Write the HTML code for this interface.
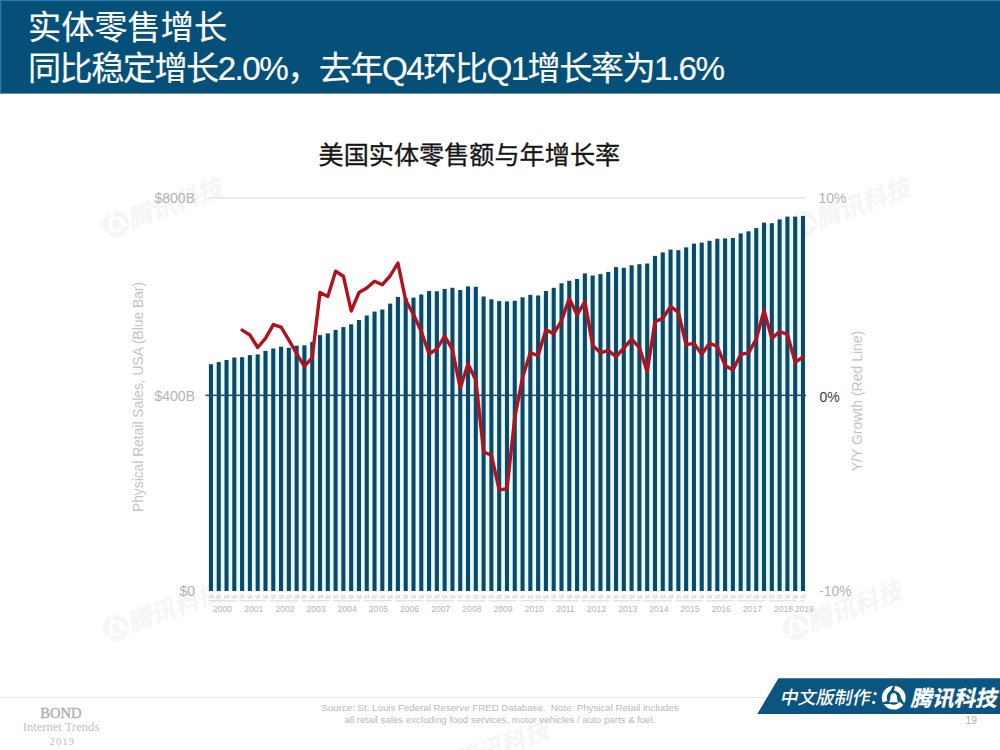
<!DOCTYPE html>
<html><head><meta charset="utf-8"><title>slide</title>
<style>
html,body{margin:0;padding:0;background:#fff;}
body{width:1000px;height:750px;overflow:hidden;font-family:"Liberation Sans",sans-serif;}
svg{display:block;}
svg text{font-family:"Liberation Sans",sans-serif;}
svg text.cjk{font-family:"Liberation Sans","Noto Sans CJK SC",sans-serif;}
.ser{font-family:"Liberation Serif",serif !important;}
</style></head><body>
<svg width="1000" height="750" viewBox="0 0 1000 750">
<rect width="1000" height="750" fill="#fff"/>
<rect x="0" y="0" width="1000" height="93.6" fill="#045079"/>
<rect x="0" y="0" width="1000" height="1" fill="#2d7aa5"/><rect x="0" y="0" width="1.2" height="93.6" fill="#2d7aa5"/>
<text class="cjk" x="28" y="39.3" font-size="33.2" fill="#fff" stroke="#fff" stroke-width="0.17">实体零售增长</text>
<text class="cjk" x="28" y="80.4" font-size="33.2" fill="#fff" stroke="#fff" stroke-width="0.17" textLength="697" lengthAdjust="spacing">同比稳定增长2.0%，去年Q4环比Q1增长率为1.6%</text>
<text class="cjk" x="318.5" y="163.7" font-size="25.15" fill="#161616" stroke="#161616" stroke-width="0.33">美国实体零售额与年增长率</text>
<g transform="translate(116 224) rotate(-20)" fill="#f3f3f3" opacity="0.8"><g transform="translate(0 0) rotate(0) scale(1.1017)" fill="#f3f3f3"><path transform="rotate(0)" d="M-0.41 -11.79A11.8 11.8 0 0 0 -10.78 4.80L-6.29 3.07A7.4 7.4 0 0 1 -3.82 -6.11Q-2.37 -8.27 -0.41 -11.79Z"/><path transform="rotate(120)" d="M-0.41 -11.79A11.8 11.8 0 0 0 -10.78 4.80L-6.29 3.07A7.4 7.4 0 0 1 -3.82 -6.11Q-2.37 -8.27 -0.41 -11.79Z"/><path transform="rotate(240)" d="M-0.41 -11.79A11.8 11.8 0 0 0 -10.78 4.80L-6.29 3.07A7.4 7.4 0 0 1 -3.82 -6.11Q-2.37 -8.27 -0.41 -11.79Z"/><path d="M-4.6 4.5C-3.6 3.2-3.5 1.6-3.3-0.6C-3.1-3.4-1.7-4.7 0-4.7C1.7-4.7 3.1-3.4 3.3-0.6C3.5 1.6 3.6 3.2 4.6 4.5Z"/></g>
<text class="cjk" transform="translate(13 9.3) skewX(-12)" font-size="24.6" font-weight="bold" fill="#f3f3f3">腾讯科技</text></g>
<g transform="translate(804 224) rotate(-20)" fill="#f3f3f3" opacity="0.8"><g transform="translate(0 0) rotate(0) scale(1.1017)" fill="#f3f3f3"><path transform="rotate(0)" d="M-0.41 -11.79A11.8 11.8 0 0 0 -10.78 4.80L-6.29 3.07A7.4 7.4 0 0 1 -3.82 -6.11Q-2.37 -8.27 -0.41 -11.79Z"/><path transform="rotate(120)" d="M-0.41 -11.79A11.8 11.8 0 0 0 -10.78 4.80L-6.29 3.07A7.4 7.4 0 0 1 -3.82 -6.11Q-2.37 -8.27 -0.41 -11.79Z"/><path transform="rotate(240)" d="M-0.41 -11.79A11.8 11.8 0 0 0 -10.78 4.80L-6.29 3.07A7.4 7.4 0 0 1 -3.82 -6.11Q-2.37 -8.27 -0.41 -11.79Z"/><path d="M-4.6 4.5C-3.6 3.2-3.5 1.6-3.3-0.6C-3.1-3.4-1.7-4.7 0-4.7C1.7-4.7 3.1-3.4 3.3-0.6C3.5 1.6 3.6 3.2 4.6 4.5Z"/></g>
<text class="cjk" transform="translate(13 9.3) skewX(-12)" font-size="24.6" font-weight="bold" fill="#f3f3f3">腾讯科技</text></g>
<g transform="translate(116 628) rotate(-20)" fill="#f3f3f3" opacity="0.8"><g transform="translate(0 0) rotate(0) scale(1.1017)" fill="#f3f3f3"><path transform="rotate(0)" d="M-0.41 -11.79A11.8 11.8 0 0 0 -10.78 4.80L-6.29 3.07A7.4 7.4 0 0 1 -3.82 -6.11Q-2.37 -8.27 -0.41 -11.79Z"/><path transform="rotate(120)" d="M-0.41 -11.79A11.8 11.8 0 0 0 -10.78 4.80L-6.29 3.07A7.4 7.4 0 0 1 -3.82 -6.11Q-2.37 -8.27 -0.41 -11.79Z"/><path transform="rotate(240)" d="M-0.41 -11.79A11.8 11.8 0 0 0 -10.78 4.80L-6.29 3.07A7.4 7.4 0 0 1 -3.82 -6.11Q-2.37 -8.27 -0.41 -11.79Z"/><path d="M-4.6 4.5C-3.6 3.2-3.5 1.6-3.3-0.6C-3.1-3.4-1.7-4.7 0-4.7C1.7-4.7 3.1-3.4 3.3-0.6C3.5 1.6 3.6 3.2 4.6 4.5Z"/></g>
<text class="cjk" transform="translate(13 9.3) skewX(-12)" font-size="24.6" font-weight="bold" fill="#f3f3f3">腾讯科技</text></g>
<g transform="translate(796 627) rotate(-20)" fill="#f3f3f3" opacity="0.8"><g transform="translate(0 0) rotate(0) scale(1.1017)" fill="#f3f3f3"><path transform="rotate(0)" d="M-0.41 -11.79A11.8 11.8 0 0 0 -10.78 4.80L-6.29 3.07A7.4 7.4 0 0 1 -3.82 -6.11Q-2.37 -8.27 -0.41 -11.79Z"/><path transform="rotate(120)" d="M-0.41 -11.79A11.8 11.8 0 0 0 -10.78 4.80L-6.29 3.07A7.4 7.4 0 0 1 -3.82 -6.11Q-2.37 -8.27 -0.41 -11.79Z"/><path transform="rotate(240)" d="M-0.41 -11.79A11.8 11.8 0 0 0 -10.78 4.80L-6.29 3.07A7.4 7.4 0 0 1 -3.82 -6.11Q-2.37 -8.27 -0.41 -11.79Z"/><path d="M-4.6 4.5C-3.6 3.2-3.5 1.6-3.3-0.6C-3.1-3.4-1.7-4.7 0-4.7C1.7-4.7 3.1-3.4 3.3-0.6C3.5 1.6 3.6 3.2 4.6 4.5Z"/></g>
<text class="cjk" transform="translate(13 9.3) skewX(-12)" font-size="24.6" font-weight="bold" fill="#f3f3f3">腾讯科技</text></g>
<g transform="translate(443 766) rotate(-20)" fill="#f3f3f3" opacity="0.8"><g transform="translate(0 0) rotate(0) scale(1.1017)" fill="#f3f3f3"><path transform="rotate(0)" d="M-0.41 -11.79A11.8 11.8 0 0 0 -10.78 4.80L-6.29 3.07A7.4 7.4 0 0 1 -3.82 -6.11Q-2.37 -8.27 -0.41 -11.79Z"/><path transform="rotate(120)" d="M-0.41 -11.79A11.8 11.8 0 0 0 -10.78 4.80L-6.29 3.07A7.4 7.4 0 0 1 -3.82 -6.11Q-2.37 -8.27 -0.41 -11.79Z"/><path transform="rotate(240)" d="M-0.41 -11.79A11.8 11.8 0 0 0 -10.78 4.80L-6.29 3.07A7.4 7.4 0 0 1 -3.82 -6.11Q-2.37 -8.27 -0.41 -11.79Z"/><path d="M-4.6 4.5C-3.6 3.2-3.5 1.6-3.3-0.6C-3.1-3.4-1.7-4.7 0-4.7C1.7-4.7 3.1-3.4 3.3-0.6C3.5 1.6 3.6 3.2 4.6 4.5Z"/></g>
<text class="cjk" transform="translate(13 9.3) skewX(-12)" font-size="24.6" font-weight="bold" fill="#f3f3f3">腾讯科技</text></g>
<rect x="208" y="197.5" width="598" height="1" fill="#dcdcdc"/>
<g fill="#e4fbff"><rect x="213.00" y="365.2" width="3.69" height="225.8"/><rect x="220.79" y="363.1" width="3.69" height="227.9"/><rect x="228.58" y="361.0" width="3.69" height="230.0"/><rect x="236.37" y="358.5" width="3.69" height="232.5"/><rect x="244.16" y="358.2" width="3.69" height="232.8"/><rect x="251.95" y="356.1" width="3.69" height="234.9"/><rect x="259.74" y="355.4" width="3.69" height="235.6"/><rect x="267.53" y="351.9" width="3.69" height="239.1"/><rect x="275.32" y="349.5" width="3.69" height="241.5"/><rect x="283.11" y="348.8" width="3.69" height="242.2"/><rect x="290.90" y="348.8" width="3.69" height="242.2"/><rect x="298.69" y="346.7" width="3.69" height="244.3"/><rect x="306.48" y="346.3" width="3.69" height="244.7"/><rect x="314.27" y="343.1" width="3.69" height="247.9"/><rect x="322.06" y="336.1" width="3.69" height="254.9"/><rect x="329.85" y="334.4" width="3.69" height="256.6"/><rect x="337.64" y="330.9" width="3.69" height="260.1"/><rect x="345.43" y="328.1" width="3.69" height="262.9"/><rect x="353.22" y="325.3" width="3.69" height="265.7"/><rect x="361.01" y="321.0" width="3.69" height="270.0"/><rect x="368.80" y="316.5" width="3.69" height="274.5"/><rect x="376.59" y="312.6" width="3.69" height="278.4"/><rect x="384.38" y="310.5" width="3.69" height="280.5"/><rect x="392.17" y="304.6" width="3.69" height="286.4"/><rect x="399.96" y="299.0" width="3.69" height="292.0"/><rect x="407.75" y="299.0" width="3.69" height="292.0"/><rect x="415.54" y="298.6" width="3.69" height="292.4"/><rect x="423.33" y="295.5" width="3.69" height="295.5"/><rect x="431.12" y="292.3" width="3.69" height="298.7"/><rect x="438.91" y="292.3" width="3.69" height="298.7"/><rect x="446.70" y="289.9" width="3.69" height="301.1"/><rect x="454.49" y="291.0" width="3.69" height="300.0"/><rect x="462.28" y="291.0" width="3.69" height="300.0"/><rect x="470.07" y="287.7" width="3.69" height="303.3"/><rect x="477.86" y="297.5" width="3.69" height="293.5"/><rect x="485.65" y="300.3" width="3.69" height="290.7"/><rect x="493.44" y="302.1" width="3.69" height="288.9"/><rect x="501.23" y="302.4" width="3.69" height="288.6"/><rect x="509.02" y="302.4" width="3.69" height="288.6"/><rect x="516.81" y="301.7" width="3.69" height="289.3"/><rect x="524.60" y="298.3" width="3.69" height="292.7"/><rect x="532.39" y="296.5" width="3.69" height="294.5"/><rect x="540.18" y="296.5" width="3.69" height="294.5"/><rect x="547.97" y="292.0" width="3.69" height="299.0"/><rect x="555.76" y="288.8" width="3.69" height="302.2"/><rect x="563.55" y="284.3" width="3.69" height="306.7"/><rect x="571.34" y="281.8" width="3.69" height="309.2"/><rect x="579.13" y="280.0" width="3.69" height="311.0"/><rect x="586.92" y="276.5" width="3.69" height="314.5"/><rect x="594.71" y="276.5" width="3.69" height="314.5"/><rect x="602.50" y="275.1" width="3.69" height="315.9"/><rect x="610.29" y="272.9" width="3.69" height="318.1"/><rect x="618.08" y="268.8" width="3.69" height="322.2"/><rect x="625.87" y="268.8" width="3.69" height="322.2"/><rect x="633.66" y="266.3" width="3.69" height="324.7"/><rect x="641.45" y="265.2" width="3.69" height="325.8"/><rect x="649.24" y="264.5" width="3.69" height="326.5"/><rect x="657.03" y="256.9" width="3.69" height="334.1"/><rect x="664.82" y="253.4" width="3.69" height="337.6"/><rect x="672.61" y="251.2" width="3.69" height="339.8"/><rect x="680.40" y="251.2" width="3.69" height="339.8"/><rect x="688.19" y="248.4" width="3.69" height="342.6"/><rect x="695.98" y="244.6" width="3.69" height="346.4"/><rect x="703.77" y="243.6" width="3.69" height="347.4"/><rect x="711.56" y="241.8" width="3.69" height="349.2"/><rect x="719.35" y="239.7" width="3.69" height="351.3"/><rect x="727.14" y="239.4" width="3.69" height="351.6"/><rect x="734.93" y="239.0" width="3.69" height="352.0"/><rect x="742.72" y="234.4" width="3.69" height="356.6"/><rect x="750.51" y="232.3" width="3.69" height="358.7"/><rect x="758.30" y="229.1" width="3.69" height="361.9"/><rect x="766.09" y="224.2" width="3.69" height="366.8"/><rect x="773.88" y="224.2" width="3.69" height="366.8"/><rect x="781.67" y="220.4" width="3.69" height="370.6"/><rect x="789.46" y="217.6" width="3.69" height="373.4"/><rect x="797.25" y="217.6" width="3.69" height="373.4"/></g>
<g fill="#0d4869"><rect x="208.90" y="364.2" width="4.1" height="226.8"/><rect x="216.69" y="362.1" width="4.1" height="228.9"/><rect x="224.48" y="360.0" width="4.1" height="231.0"/><rect x="232.27" y="357.5" width="4.1" height="233.5"/><rect x="240.06" y="357.2" width="4.1" height="233.8"/><rect x="247.85" y="355.1" width="4.1" height="235.9"/><rect x="255.64" y="354.4" width="4.1" height="236.6"/><rect x="263.43" y="350.9" width="4.1" height="240.1"/><rect x="271.22" y="348.5" width="4.1" height="242.5"/><rect x="279.01" y="346.7" width="4.1" height="244.3"/><rect x="286.80" y="347.8" width="4.1" height="243.2"/><rect x="294.59" y="345.7" width="4.1" height="245.3"/><rect x="302.38" y="345.3" width="4.1" height="245.7"/><rect x="310.17" y="342.1" width="4.1" height="248.9"/><rect x="317.96" y="335.1" width="4.1" height="255.9"/><rect x="325.75" y="333.4" width="4.1" height="257.6"/><rect x="333.54" y="329.9" width="4.1" height="261.1"/><rect x="341.33" y="327.1" width="4.1" height="263.9"/><rect x="349.12" y="324.3" width="4.1" height="266.7"/><rect x="356.91" y="320.0" width="4.1" height="271.0"/><rect x="364.70" y="315.5" width="4.1" height="275.5"/><rect x="372.49" y="311.6" width="4.1" height="279.4"/><rect x="380.28" y="309.5" width="4.1" height="281.5"/><rect x="388.07" y="303.6" width="4.1" height="287.4"/><rect x="395.86" y="296.9" width="4.1" height="294.1"/><rect x="403.65" y="298.0" width="4.1" height="293.0"/><rect x="411.44" y="297.6" width="4.1" height="293.4"/><rect x="419.23" y="294.5" width="4.1" height="296.5"/><rect x="427.02" y="291.0" width="4.1" height="300.0"/><rect x="434.81" y="291.3" width="4.1" height="299.7"/><rect x="442.60" y="288.9" width="4.1" height="302.1"/><rect x="450.39" y="287.8" width="4.1" height="303.2"/><rect x="458.18" y="290.0" width="4.1" height="301.0"/><rect x="465.97" y="286.4" width="4.1" height="304.6"/><rect x="473.76" y="286.7" width="4.1" height="304.3"/><rect x="481.55" y="296.5" width="4.1" height="294.5"/><rect x="489.34" y="299.3" width="4.1" height="291.7"/><rect x="497.13" y="301.1" width="4.1" height="289.9"/><rect x="504.92" y="301.4" width="4.1" height="289.6"/><rect x="512.71" y="300.7" width="4.1" height="290.3"/><rect x="520.50" y="297.3" width="4.1" height="293.7"/><rect x="528.29" y="294.8" width="4.1" height="296.2"/><rect x="536.08" y="295.5" width="4.1" height="295.5"/><rect x="543.87" y="291.0" width="4.1" height="300.0"/><rect x="551.66" y="287.8" width="4.1" height="303.2"/><rect x="559.45" y="283.3" width="4.1" height="307.7"/><rect x="567.24" y="280.8" width="4.1" height="310.2"/><rect x="575.03" y="279.0" width="4.1" height="312.0"/><rect x="582.82" y="273.4" width="4.1" height="317.6"/><rect x="590.61" y="275.5" width="4.1" height="315.5"/><rect x="598.40" y="274.1" width="4.1" height="316.9"/><rect x="606.19" y="271.9" width="4.1" height="319.1"/><rect x="613.98" y="267.1" width="4.1" height="323.9"/><rect x="621.77" y="267.8" width="4.1" height="323.2"/><rect x="629.56" y="265.3" width="4.1" height="325.7"/><rect x="637.35" y="264.2" width="4.1" height="326.8"/><rect x="645.14" y="263.5" width="4.1" height="327.5"/><rect x="652.93" y="255.9" width="4.1" height="335.1"/><rect x="660.72" y="252.4" width="4.1" height="338.6"/><rect x="668.51" y="249.5" width="4.1" height="341.5"/><rect x="676.30" y="250.2" width="4.1" height="340.8"/><rect x="684.09" y="247.4" width="4.1" height="343.6"/><rect x="691.88" y="243.6" width="4.1" height="347.4"/><rect x="699.67" y="242.6" width="4.1" height="348.4"/><rect x="707.46" y="240.8" width="4.1" height="350.2"/><rect x="715.25" y="238.7" width="4.1" height="352.3"/><rect x="723.04" y="238.4" width="4.1" height="352.6"/><rect x="730.83" y="238.0" width="4.1" height="353.0"/><rect x="738.62" y="233.4" width="4.1" height="357.6"/><rect x="746.41" y="231.3" width="4.1" height="359.7"/><rect x="754.20" y="228.1" width="4.1" height="362.9"/><rect x="761.99" y="222.6" width="4.1" height="368.4"/><rect x="769.78" y="223.2" width="4.1" height="367.8"/><rect x="777.57" y="219.4" width="4.1" height="371.6"/><rect x="785.36" y="216.6" width="4.1" height="374.4"/><rect x="793.15" y="216.6" width="4.1" height="374.4"/><rect x="800.94" y="215.9" width="4.1" height="375.1"/></g>
<rect x="205.5" y="394.6" width="600.5" height="1.5" fill="#274a63"/>
<polyline points="242.1,330.1 249.9,335.0 257.7,347.5 265.5,338.4 273.3,324.6 281.1,327.2 288.9,340.2 296.6,353.5 304.4,366.5 312.2,357.5 320.0,292.5 327.8,296.5 335.6,271.2 343.4,276.2 351.2,311.0 359.0,292.5 366.8,288.1 374.5,281.2 382.3,284.7 390.1,276.0 397.9,263.0 405.7,300.3 413.5,314.5 421.3,331.5 429.1,354.0 436.9,349.0 444.6,336.0 452.4,349.3 460.2,388.0 468.0,364.0 475.8,380.0 483.6,452.0 491.4,455.2 499.2,489.9 507.0,488.8 514.8,417.3 522.6,377.3 530.3,352.8 538.1,355.5 545.9,329.9 553.7,333.6 561.5,320.8 569.3,298.4 577.1,314.9 584.9,301.6 592.7,345.6 600.5,352.8 608.2,350.4 616.0,356.8 623.8,348.0 631.6,339.2 639.4,347.6 647.2,372.0 655.0,321.6 662.8,318.4 670.6,306.4 678.4,312.4 686.1,344.8 693.9,343.2 701.7,354.4 709.5,343.2 717.3,346.4 725.1,365.6 732.9,369.9 740.7,354.4 748.5,352.8 756.2,339.2 764.0,310.4 771.8,338.4 779.6,331.5 787.4,334.4 795.2,362.4 803.0,356.8" fill="none" stroke="#b3121c" stroke-width="3.4" stroke-linejoin="round" stroke-linecap="round"/>
<g font-size="14" fill="#b3b3b3"><text x="154.5" y="203.2">$800B</text><text x="154.5" y="400.6">$400B</text><text x="179.5" y="596">$0</text><text x="818.5" y="203">10%</text><text x="819" y="596">-10%</text></g>
<text x="819.5" y="401.5" font-size="14" fill="#3a3a3a">0%</text>
<text transform="translate(143.2 397) rotate(-90)" text-anchor="middle" font-size="13.8" fill="#c4c4c4">Physical Retail Sales, USA (Blue Bar)</text>
<text transform="translate(861.9 401) rotate(-90)" text-anchor="middle" font-size="14" fill="#c4c4c4">Y/Y Growth (Red Line)</text>
<g font-size="3.8" fill="#9e9e9e" text-anchor="middle"><text x="211.0" y="598.2">Q1</text><text x="218.7" y="598.2">Q2</text><text x="226.5" y="598.2">Q3</text><text x="234.3" y="598.2">Q4</text><text x="242.1" y="598.2">Q1</text><text x="249.9" y="598.2">Q2</text><text x="257.7" y="598.2">Q3</text><text x="265.5" y="598.2">Q4</text><text x="273.3" y="598.2">Q1</text><text x="281.1" y="598.2">Q2</text><text x="288.9" y="598.2">Q3</text><text x="296.6" y="598.2">Q4</text><text x="304.4" y="598.2">Q1</text><text x="312.2" y="598.2">Q2</text><text x="320.0" y="598.2">Q3</text><text x="327.8" y="598.2">Q4</text><text x="335.6" y="598.2">Q1</text><text x="343.4" y="598.2">Q2</text><text x="351.2" y="598.2">Q3</text><text x="359.0" y="598.2">Q4</text><text x="366.8" y="598.2">Q1</text><text x="374.5" y="598.2">Q2</text><text x="382.3" y="598.2">Q3</text><text x="390.1" y="598.2">Q4</text><text x="397.9" y="598.2">Q1</text><text x="405.7" y="598.2">Q2</text><text x="413.5" y="598.2">Q3</text><text x="421.3" y="598.2">Q4</text><text x="429.1" y="598.2">Q1</text><text x="436.9" y="598.2">Q2</text><text x="444.6" y="598.2">Q3</text><text x="452.4" y="598.2">Q4</text><text x="460.2" y="598.2">Q1</text><text x="468.0" y="598.2">Q2</text><text x="475.8" y="598.2">Q3</text><text x="483.6" y="598.2">Q4</text><text x="491.4" y="598.2">Q1</text><text x="499.2" y="598.2">Q2</text><text x="507.0" y="598.2">Q3</text><text x="514.8" y="598.2">Q4</text><text x="522.6" y="598.2">Q1</text><text x="530.3" y="598.2">Q2</text><text x="538.1" y="598.2">Q3</text><text x="545.9" y="598.2">Q4</text><text x="553.7" y="598.2">Q1</text><text x="561.5" y="598.2">Q2</text><text x="569.3" y="598.2">Q3</text><text x="577.1" y="598.2">Q4</text><text x="584.9" y="598.2">Q1</text><text x="592.7" y="598.2">Q2</text><text x="600.5" y="598.2">Q3</text><text x="608.2" y="598.2">Q4</text><text x="616.0" y="598.2">Q1</text><text x="623.8" y="598.2">Q2</text><text x="631.6" y="598.2">Q3</text><text x="639.4" y="598.2">Q4</text><text x="647.2" y="598.2">Q1</text><text x="655.0" y="598.2">Q2</text><text x="662.8" y="598.2">Q3</text><text x="670.6" y="598.2">Q4</text><text x="678.4" y="598.2">Q1</text><text x="686.1" y="598.2">Q2</text><text x="693.9" y="598.2">Q3</text><text x="701.7" y="598.2">Q4</text><text x="709.5" y="598.2">Q1</text><text x="717.3" y="598.2">Q2</text><text x="725.1" y="598.2">Q3</text><text x="732.9" y="598.2">Q4</text><text x="740.7" y="598.2">Q1</text><text x="748.5" y="598.2">Q2</text><text x="756.2" y="598.2">Q3</text><text x="764.0" y="598.2">Q4</text><text x="771.8" y="598.2">Q1</text><text x="779.6" y="598.2">Q2</text><text x="787.4" y="598.2">Q3</text><text x="795.2" y="598.2">Q4</text><text x="803.0" y="598.2">Q1</text></g>
<g fill="#d2d2d2"><rect x="207.9" y="600.4" width="27.9" height="0.9"/><rect x="239.1" y="600.4" width="27.9" height="0.9"/><rect x="270.2" y="600.4" width="27.9" height="0.9"/><rect x="301.4" y="600.4" width="27.9" height="0.9"/><rect x="332.5" y="600.4" width="27.9" height="0.9"/><rect x="363.7" y="600.4" width="27.9" height="0.9"/><rect x="394.9" y="600.4" width="27.9" height="0.9"/><rect x="426.0" y="600.4" width="27.9" height="0.9"/><rect x="457.2" y="600.4" width="27.9" height="0.9"/><rect x="488.3" y="600.4" width="27.9" height="0.9"/><rect x="519.5" y="600.4" width="27.9" height="0.9"/><rect x="550.7" y="600.4" width="27.9" height="0.9"/><rect x="581.8" y="600.4" width="27.9" height="0.9"/><rect x="613.0" y="600.4" width="27.9" height="0.9"/><rect x="644.1" y="600.4" width="27.9" height="0.9"/><rect x="675.3" y="600.4" width="27.9" height="0.9"/><rect x="706.5" y="600.4" width="27.9" height="0.9"/><rect x="737.6" y="600.4" width="27.9" height="0.9"/><rect x="768.8" y="600.4" width="27.9" height="0.9"/><rect x="799.9" y="600.4" width="4.5" height="0.9"/></g>
<g font-size="8.6" fill="#b4b4b4" text-anchor="middle"><text x="222.6" y="611.5">2000</text><text x="253.8" y="611.5">2001</text><text x="285.0" y="611.5">2002</text><text x="316.1" y="611.5">2003</text><text x="347.3" y="611.5">2004</text><text x="378.4" y="611.5">2005</text><text x="409.6" y="611.5">2006</text><text x="440.8" y="611.5">2007</text><text x="471.9" y="611.5">2008</text><text x="503.1" y="611.5">2009</text><text x="534.2" y="611.5">2010</text><text x="565.4" y="611.5">2011</text><text x="596.6" y="611.5">2012</text><text x="627.7" y="611.5">2013</text><text x="658.9" y="611.5">2014</text><text x="690.0" y="611.5">2015</text><text x="721.2" y="611.5">2016</text><text x="752.4" y="611.5">2017</text><text x="783.5" y="611.5">2018</text><text x="804.3" y="611.5">2019</text></g>
<rect x="0" y="696.8" width="770" height="1.2" fill="#e8e8e8"/>
<g class="ser" fill="#b5b5b5" text-anchor="middle"><text class="ser" x="61" y="717.8" font-size="14.6" fill="#adadad" stroke="#adadad" stroke-width="0.35">BOND</text><text class="ser" x="61" y="731.3" font-size="12.6" fill="#c2c2c2">Internet Trends</text><text class="ser" x="62.2" y="744.8" font-size="11" letter-spacing="0.8" fill="#bfbfbf">2019</text></g>
<g font-size="9.7" fill="#b9b9b9" text-anchor="middle"><text x="500" y="711.2" xml:space="preserve">Source: St. Louis Federal Reserve FRED Database.  Note: Physical Retail includes</text><text x="500" y="722.5">all retail sales excluding food services, motor vehicles / auto parts &amp; fuel.</text></g>
<text x="965.6" y="723.7" font-size="10.3" fill="#b0b0b0">19</text>
<polygon points="778.5,678.3 1000,678.3 1000,714 757.3,714" fill="#0c5581"/>
<text class="cjk" transform="translate(779.5 704) skewX(-12)" font-size="18" font-weight="500" fill="#fff">中文版制作</text>
<circle cx="875.2" cy="693.6" r="1.6" fill="#fff"/><circle cx="873.7" cy="702.4" r="1.6" fill="#fff"/>
<text class="cjk" transform="translate(910.3 705.8) skewX(-13)" font-size="21.6" font-weight="bold" fill="#fff" stroke="#fff" stroke-width="0.3">腾讯科技</text>
<g transform="translate(893.7 697.7) rotate(0) scale(1.0085)" fill="#fff"><path transform="rotate(0)" d="M-0.41 -11.79A11.8 11.8 0 0 0 -10.78 4.80L-6.29 3.07A7.4 7.4 0 0 1 -3.82 -6.11Q-2.37 -8.27 -0.41 -11.79Z"/><path transform="rotate(120)" d="M-0.41 -11.79A11.8 11.8 0 0 0 -10.78 4.80L-6.29 3.07A7.4 7.4 0 0 1 -3.82 -6.11Q-2.37 -8.27 -0.41 -11.79Z"/><path transform="rotate(240)" d="M-0.41 -11.79A11.8 11.8 0 0 0 -10.78 4.80L-6.29 3.07A7.4 7.4 0 0 1 -3.82 -6.11Q-2.37 -8.27 -0.41 -11.79Z"/><path d="M-4.6 4.5C-3.6 3.2-3.5 1.6-3.3-0.6C-3.1-3.4-1.7-4.7 0-4.7C1.7-4.7 3.1-3.4 3.3-0.6C3.5 1.6 3.6 3.2 4.6 4.5Z"/></g>
</svg>
</body></html>
